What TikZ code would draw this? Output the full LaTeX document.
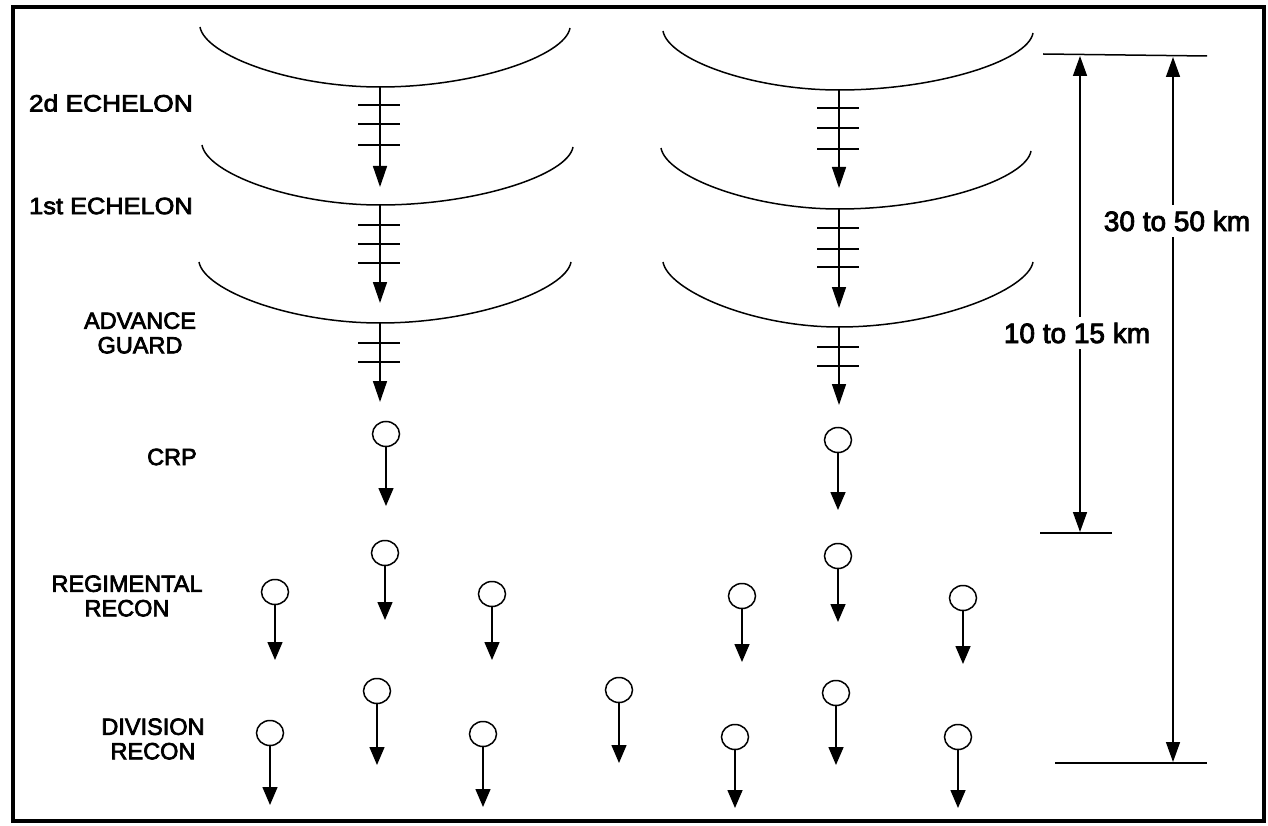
\documentclass[tikz,border=0pt]{standalone}
\usepackage{fontspec}
\setmainfont{Liberation Sans}[FakeBold=3]
\usetikzlibrary{arrows.meta,shapes.geometric}
\newcommand\echarc[6]{%
  \draw[ln] (#1,#2) .. controls ({#1+5},{#2+28}) and ({#3-0.5*(#3-#1)},#4) .. (#3,#4)
    .. controls ({#3+0.5*(#5-#3)},#4) and ({#5-5},{#6+28}) .. (#5,#6);}
\begin{document}
\begin{tikzpicture}[x=1pt,y=-1pt,
  ln/.style={line width=1.5pt},
  tri/.style={-{Triangle[length=21pt,width=14pt]}},
  tri2/.style={{Triangle[length=20pt,width=14pt]}-{Triangle[length=20pt,width=14pt]}},
  unitc/.style={draw,ellipse,line width=1.5pt,minimum width=27pt,minimum height=25pt,inner sep=0pt},
  lbl/.style={font=\fontsize{23.5}{24.5}\selectfont,align=center,inner sep=0pt},
  km/.style={font=\fontsize{28}{30}\selectfont,fill=white,inner sep=6pt}]
\useasboundingbox (0,0) rectangle (1268,826);
\draw[line width=4.5pt] (13,7) rectangle (1264,821);

% echelon arcs
\echarc{200}{27}{380}{87}{570}{28}
\echarc{202}{145}{380}{205}{573}{147}
\echarc{199}{262}{380}{323}{571}{262}
\echarc{663}{31}{839}{90}{1033}{33}
\echarc{661}{148}{839}{209}{1031}{151}
\echarc{663}{262}{839}{327}{1033}{262}

% stems with three ticks
\foreach \n/\x/\ya/\yb/\ta/\tb/\tc in {
  sl1/380/87/187/105/124/145,
  sl2/380/205/303/225/244/263,
  sr1/839/90/188/108/128/149,
  sr2/839/209/308/228/249/267}{
  \coordinate (\n a) at (\x,\ya);
  \coordinate (\n b) at (\x,\yb);
  \draw[ln,tri] (\n a) -- (\n b);
  \foreach \t in {\ta,\tb,\tc}{\draw[ln] ({\x-22},\t) -- ({\x+20},\t);}
}
% stems with two ticks (advance guard)
\foreach \n/\x/\ya/\yb/\ta/\tb in {
  sl3/380/323/402/343/362,
  sr3/839/327/405/347/366}{
  \coordinate (\n a) at (\x,\ya);
  \coordinate (\n b) at (\x,\yb);
  \draw[ln,tri] (\n a) -- (\n b);
  \foreach \t in {\ta,\tb}{\draw[ln] ({\x-22},\t) -- ({\x+20},\t);}
}

% recon units
\foreach \n/\x/\y/\t in {
  c1/386/434/506, c2/838/440/510,
  r1/275/592/660, r2/385/553/620, r3/492/594/660,
  r4/742/596/662, r5/838/556/622, r6/963/598/664,
  d1/270/733/805, d2/377/691/765, d3/483/734/807, d4/619/690/763,
  d5/735/737/808, d6/836/693/765, d7/958/737/808}{
  \node[unitc] (\n) at (\x,\y) {};
  \coordinate (\n e) at (\x,\t);
  \draw[ln,-{Triangle[length=18pt,width=15pt]}] (\n) -- (\n e);
}

% labels
\node[lbl,anchor=east] (l2d) at (193,103) {\scalebox{1.12}[1]{2d ECHELON}};
\node[lbl,anchor=east] (l1st) at (193,206) {\scalebox{1.08}[1]{1st ECHELON}};
\node[lbl] (lag) at (140,333) {ADVANCE\\GUARD};
\node[lbl] (lcrp) at (172,457) {CRP};
\node[lbl] (lreg) at (127,596) {REGIMENTAL\\RECON};
\node[lbl] (ldiv) at (153,739) {DIVISION\\RECON};

% measurements
\coordinate (h1a) at (1043,54); \coordinate (h1b) at (1207,56);
\draw[ln] (h1a) -- (h1b);
\coordinate (h2a) at (1040,533); \coordinate (h2b) at (1112,533);
\draw[ln] (h2a) -- (h2b);
\coordinate (h3a) at (1055,763); \coordinate (h3b) at (1207,763);
\draw[ln] (h3a) -- (h3b);
\coordinate (m1t) at (1080,56); \coordinate (m1b) at (1080,532);
\draw[ln,tri2] (m1t) -- (m1b);
\coordinate (m2t) at (1173,57); \coordinate (m2b) at (1173,762);
\draw[ln,tri2] (m2t) -- (m2b);
\node[km] (k1) at (1177,221) {30 to 50 km};
\node[km] (k2) at (1077,333) {10 to 15 km};
\end{tikzpicture}
\end{document}
